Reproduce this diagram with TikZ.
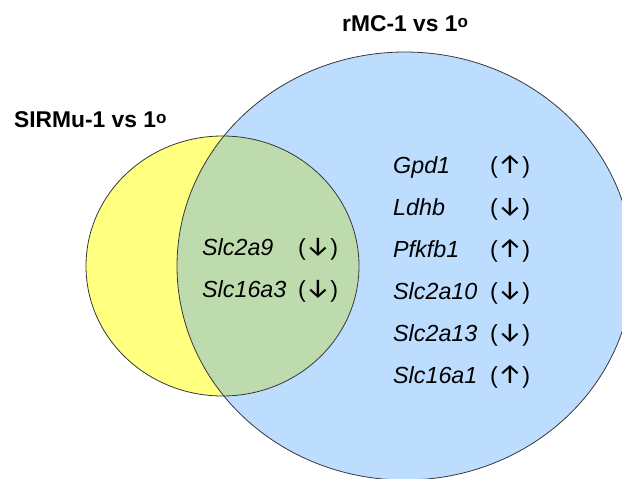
\documentclass[tikz,border=0pt]{standalone}
\usepackage{fontspec}
\setmainfont{Liberation Sans}
\newfontfamily\arrowfont{Fira Sans}
\definecolor{setA}{RGB}{255,255,128}
\definecolor{setB}{RGB}{189,221,255}
\definecolor{setAB}{RGB}{189,219,172}
\definecolor{rim}{RGB}{55,55,60}
\tikzset{
  title/.style={anchor=base west, inner sep=0pt, font=\fontsize{22.8}{27}\selectfont\bfseries},
  gene/.style={anchor=base west, inner sep=0pt, font=\fontsize{23.3}{28}\selectfont\itshape},
  trend/.style={anchor=base west, inner sep=0pt, font=\fontsize{23.3}{28}\selectfont},
  rimline/.style={draw=rim, line width=0.8pt}
}
\newcommand{\degsign}{\raisebox{4pt}{\fontsize{17}{17}\selectfont o}}
\newcommand{\upmark}{({\arrowfont\fontsize{27}{28}\selectfont ↑})}
\newcommand{\downmark}{({\arrowfont\fontsize{27}{28}\selectfont ↓})}
\begin{document}
\begin{tikzpicture}[x=1pt, y=-1pt]
  \useasboundingbox (0,0) rectangle (622,479);
  \clip (0,0) rectangle (622,479);
  % the two sets
  \coordinate (cA) at (222.5,266);
  \coordinate (cB) at (405,266);
  \fill[setB] (cB) ellipse [x radius=228pt, y radius=214pt];
  \fill[setA] (cA) ellipse [x radius=136.5pt, y radius=130pt];
  \begin{scope}
    \clip (cA) ellipse [x radius=136.5pt, y radius=130pt];
    \fill[setAB] (cB) ellipse [x radius=228pt, y radius=214pt];
  \end{scope}
  \draw[rimline] (cB) ellipse [x radius=228pt, y radius=214pt];
  \draw[rimline] (cA) ellipse [x radius=136.5pt, y radius=130pt];

  % set titles
  \node[title] (tA) at (14,127) {SIRMu-1 vs 1\degsign};
  \node[title] (tB) at (342,31) {rMC-1 vs 1\degsign};

  % shared genes
  \node[gene]  (g1) at (202,255) {Slc2a9};
  \node[trend] (d1) at (298,255) {\downmark};
  \node[gene]  (g2) at (202,297) {Slc16a3};
  \node[trend] (d2) at (298,297) {\downmark};

  % genes of the second set only
  \node[gene]  (h1) at (393,173) {Gpd1};
  \node[trend] (e1) at (490,173) {\upmark};
  \node[gene]  (h2) at (393,215) {Ldhb};
  \node[trend] (e2) at (490,215) {\downmark};
  \node[gene]  (h3) at (393,257) {Pfkfb1};
  \node[trend] (e3) at (490,257) {\upmark};
  \node[gene]  (h4) at (393,299) {Slc2a10};
  \node[trend] (e4) at (490,299) {\downmark};
  \node[gene]  (h5) at (393,341) {Slc2a13};
  \node[trend] (e5) at (490,341) {\downmark};
  \node[gene]  (h6) at (393,383) {Slc16a1};
  \node[trend] (e6) at (490,383) {\upmark};
\end{tikzpicture}
\end{document}
